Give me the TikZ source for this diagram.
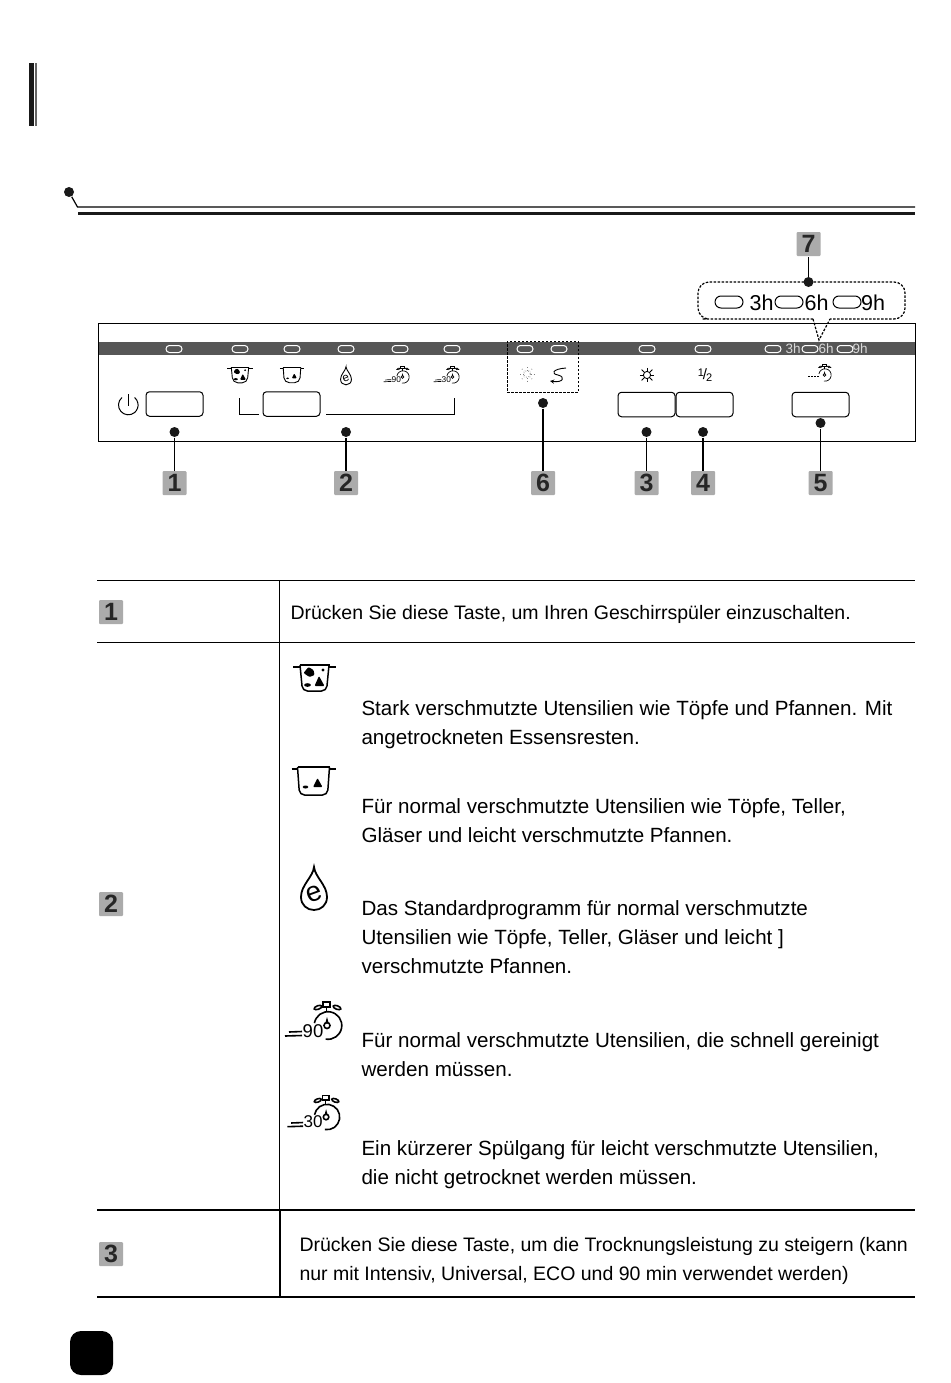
\documentclass[tikz,border=0pt]{standalone}
\usepackage{fontspec}
\setmainfont{Liberation Sans}
\usetikzlibrary{positioning}
\definecolor{bandgray}{HTML}{565656}
\definecolor{badgegray}{HTML}{ABABAB}
\newcommand{\clockdraw}{
	\draw (190:13.8) arc [start angle=190,end angle=460,radius=13.8];
	\draw (-5,-23.5) rectangle (2,-18.5);
	\draw (-1.5,-18.5) -- (-1.5,-13.8);
	\draw[rotate around={20:(-10,-18)}] (-10,-18) ellipse [x radius=4,y radius=1.8];
	\draw[rotate around={-20:(9,-18)}] (9,-18) ellipse [x radius=4,y radius=1.8];
	\draw (-1,0) circle [radius=3];
	\fill (-1,-8.5) -- (.8,-2) -- (-2.8,-2) -- cycle;
}
\tikzset{
	dot/.style={circle,fill=black!90,inner sep=0pt,minimum size=10pt},
	badge/.style={fill=badgegray,rounded corners=1pt,inner sep=0pt,minimum size=24pt,font=\fontsize{25}{25}\selectfont\bfseries,text=black!85},
	btn/.style={draw,line width=1pt,rounded corners=3.5pt,inner sep=0pt,minimum width=57pt,minimum height=24.5pt},
	led/.style={draw=white,line width=1pt,fill=bandgray,rounded corners=3.4pt,inner sep=0pt,minimum width=16pt,minimum height=7pt},
	bigled/.style={draw,line width=1pt,rounded corners=6pt,inner sep=0pt,minimum width=28pt,minimum height=12pt},
	bandtxt/.style={text=white!85!black,font=\fontsize{13.5}{14}\selectfont,inner sep=0pt},
	bigtxt/.style={font=\fontsize{21.5}{22}\selectfont,inner sep=0pt},
	txt/.style={anchor=west,align=left,inner sep=0pt,font=\fontsize{20.6}{29.3}\selectfont},
	smalltxt/.style={anchor=west,align=left,inner sep=0pt,font=\fontsize{19.5}{29.3}\selectfont},
	dashline/.style={dash pattern=on 2.5pt off 1.5pt,line width=1pt},
	potfull/.pic={
		\draw (-15,-13) -- (15,-13);
		\draw (-21.5,-11) -- (-14.5,-11) (14.5,-11) -- (21,-11);
		\draw[rounded corners=5pt] (-14.5,-13) -- (-12,13) -- (12,13) -- (14.5,-13);
		\fill[rounded corners=1pt] (-11,-5) -- (-6,-11) -- (-1,-8) -- (0,-3) -- (-5,-1) -- cycle;
		\fill[rounded corners=1pt] (0,8) -- (4.5,-2) -- (10,8) -- cycle;
		\fill (-7,7) ellipse [x radius=3.4,y radius=1.8];
		\fill (8.5,-8) circle [radius=1.7];
	},
	potnorm/.pic={
		\draw (-16,-14) -- (16,-14);
		\draw (-22,-12) -- (-15.5,-12) (15.5,-12) -- (22,-12);
		\draw[rounded corners=5pt] (-16,-14) -- (-14,14) -- (14,14) -- (16,-14);
		\fill[rounded corners=1pt] (-.5,6) -- (4,-3) -- (9,6) -- cycle;
		\fill (-8,6) ellipse [x radius=2.8,y radius=1.5];
	},
	dropicon/.pic={
		\draw (0,-22) .. controls (1,-12) and (13,-4) .. (13,8) .. controls (13,16) and (7,21) .. (0,21) .. controls (-7,21) and (-13,16) .. (-13,8) .. controls (-13,-4) and (-1,-12) .. cycle;
		\node[transform shape,rotate=20,inner sep=0pt,font=\fontsize{28}{28}\selectfont] at (0,5) {e};
	},
	clockbase/.pic={
		\clockdraw
	},
	clockicon/.pic={
		\clockdraw
		\draw (-43,10.5) -- (-26,10);
		\draw (-39,6.5) -- (-26,6);
		\node[transform shape,inner sep=0pt,font=\fontsize{18.5}{19}\selectfont] at (-15,5.5) {\tikzpictext};
	},
	sunicon/.pic={
		\draw (0,0) circle [radius=4];
		\draw (0,-8) -- (0,-4.5) (0,4.5) -- (0,8) (-8,0) -- (-4.5,0) (4.5,0) -- (8,0);
		\draw (-6,-6) -- (-3.3,-3.3) (6,-6) -- (3.3,-3.3) (-6,6) -- (-3.3,3.3) (6,6) -- (3.3,3.3);
	},
}
\begin{document}
\begin{tikzpicture}[x=1pt,y=-1pt,line width=1pt]
	\useasboundingbox (0,0) rectangle (950,1383);

	\fill[black!90] (29,63) rectangle (33.5,126);
	\fill[black!60] (35,63) rectangle (36.7,126);

	\node[dot] (hd) at (69,192) {};
	\coordinate (hb) at (77.5,207);
	\coordinate (he) at (915,207);
	\draw[line width=1.2pt] (hd) -- (hb) -- (he);
	\fill[black!90] (77.5,211.5) rectangle (915,214.5);

	\node[draw,minimum width=817pt,minimum height=118pt,inner sep=0pt] (panel) at (506.5,382) {};
	\fill[bandgray] (99,342) rectangle (914.5,355);

	\node[led] (l1) at (174,349) {};
	\node[led] (l2) at (240,349) {};
	\node[led] (l3) at (292,349) {};
	\node[led] (l4) at (346,349) {};
	\node[led] (l5) at (400,349) {};
	\node[led] (l6) at (452,349) {};
	\node[led] (l7) at (525,349) {};
	\node[led] (l8) at (559,349) {};
	\node[led] (l9) at (647,349) {};
	\node[led] (l10) at (703,349) {};
	\node[led] (l11) at (773,349) {};
	\node[bandtxt] (t3) at (793,349) {3h};
	\node[led] (l12) at (810,349) {};
	\node[bandtxt] (t6) at (826,349) {6h};
	\node[led] (l13) at (845,349) {};
	\node[bandtxt] (t9) at (860,349) {9h};

	\node[btn] (b1) at (174.5,404) {};
	\node[btn] (b2) at (291.5,404) {};
	\node[btn] (b3) at (646.5,404.5) {};
	\node[btn] (b4) [right=0pt of b3] {};
	\node[btn] (b5) at (820.5,404.5) {};

	\draw (128,394) -- (128,406);
	\draw (122,397.5) arc [start angle=230,end angle=-50,radius=9.8];

	\coordinate (k1) at (239,398);
	\coordinate (k2) at (239,414.5);
	\coordinate (k3) at (259,414.5);
	\coordinate (k4) at (326,414.5);
	\coordinate (k5) at (454,414.5);
	\coordinate (k6) at (454,398);
	\draw (k1) -- (k2) -- (k3);
	\draw (k4) -- (k5) -- (k6);

	\pic[scale=.6,line width=.9pt] at (240,375) {potfull};
	\pic[scale=.55,line width=.9pt] at (292,375) {potnorm};
	\pic[scale=.42,line width=.9pt] at (346,376) {dropicon};
	\pic[scale=.45,line width=.7pt,pic text=90] at (403,377) {clockicon};
	\pic[scale=.45,line width=.7pt,pic text=30] at (453,377) {clockicon};
	\pic[scale=.85,line width=.8pt,draw=gray,dotted] at (527,374) {sunicon};
	\draw[line width=.9pt,->,>=stealth] (566,368) .. controls (552,369) and (551,374) .. (558,375) .. controls (566,377) and (563,383) .. (550,381);
	\pic[scale=.9,line width=.9pt] at (647,375) {sunicon};
	\node[inner sep=0pt,font=\fontsize{11}{11}\selectfont] (half) at (705,375) {\raisebox{2.5pt}{1}\kern-1pt{\fontsize{15}{15}\selectfont/}\kern-1pt\raisebox{-2.5pt}{2}};
	\pic[scale=.45,line width=.7pt] at (825,375) {clockbase};
	\coordinate (w1) at (808,376);
	\coordinate (w2) at (819,376);
	\draw[line width=.8pt,dash pattern=on 2pt off 1pt] (w1) -- (w2);

	\node[draw,dashline,minimum width=71pt,minimum height=51pt,inner sep=0pt] (box) at (542.5,366.5) {};

	\coordinate (c1) at (813,319);
	\coordinate (c2) at (819,340);
	\coordinate (c3) at (830,319);
	\draw[dashline,line width=1.2pt,fill=white,rounded corners=11pt] (c1) -- (713,319) -- (698,319) -- (698,282) -- (905,282) -- (905,319) -- (c3);
	\draw[dashline,line width=1.2pt] (c1) -- (c2) -- (c3);
	\node[bigled] (bl1) at (729,302) {};
	\node[bigtxt] (bt3) at (761.5,303) {3h};
	\node[bigled] (bl2) at (789,302) {};
	\node[bigtxt] (bt6) at (816.5,303) {6h};
	\node[bigled] (bl3) at (847,302) {};
	\node[bigtxt] (bt9) at (873,303) {9h};

	\node[dot] (d1) at (174.5,432) {};
	\node[dot] (d2) at (346,432) {};
	\node[dot] (d3) at (646.5,432) {};
	\node[dot] (d4) at (703,432) {};
	\node[dot] (d5) at (820.5,423) {};
	\node[dot] (d6) at (543,403) {};
	\node[dot] (d7) at (808.5,282) {};

	\node[badge] (n1) [below=33pt of d1] {1};
	\node[badge] (n2) [below=33pt of d2] {2};
	\node[badge] (n3) [below=33pt of d3] {3};
	\node[badge] (n4) [below=33pt of d4] {4};
	\node[badge] (n5) [below=42pt of d5] {5};
	\node[badge] (n6) [below=62pt of d6] {6};
	\node[badge] (n7) [above=20pt of d7] {7};

	\draw[line width=1.2pt] (d1) -- (n1);
	\draw[line width=1.2pt] (d2) -- (n2);
	\draw[line width=1.2pt] (d3) -- (n3);
	\draw[line width=1.2pt] (d4) -- (n4);
	\draw[line width=1.2pt] (d5) -- (n5);
	\draw[line width=1.2pt] (d6) -- (n6);
	\draw[line width=1.2pt] (d7) -- (n7);

	\coordinate (r1l) at (97,580);
	\coordinate (r1r) at (915,580);
	\coordinate (r2l) at (97,642);
	\coordinate (r2r) at (915,642);
	\coordinate (r3l) at (97,1210);
	\coordinate (r3r) at (915,1210);
	\coordinate (r4l) at (97,1297);
	\coordinate (r4r) at (915,1297);
	\coordinate (v1) at (279,580);
	\coordinate (v2) at (279,1210);
	\coordinate (v3) at (280,1210);
	\coordinate (v4) at (280,1297);
	\draw[line width=.8pt] (r1l) -- (r1r);
	\draw[line width=.8pt] (r2l) -- (r2r);
	\draw[line width=.8pt] (v1) -- (v2);
	\draw[line width=2pt] (r3l) -- (r3r);
	\draw[line width=2pt] (r4l) -- (r4r);
	\draw[line width=2pt] (v3) -- (v4);

	\node[badge] (m1) at (111,612) {1};
	\node[badge] (m2) at (111,904) {2};
	\node[badge] (m3) at (111,1254) {3};

	\node[smalltxt] (x1) at (290,614.5) {Drücken Sie diese Taste, um Ihren Geschirrspüler einzuschalten.};
	\pic[line width=1.5pt] at (314.5,678) {potfull};
	\node[txt] (x2) at (361,724.8) {Stark verschmutzte Utensilien wie Töpfe und Pfannen. Mit\\angetrockneten Essensresten.};
	\pic[line width=1.5pt] at (313.5,781) {potnorm};
	\node[txt] (x3) at (361,820.3) {Für normal verschmutzte Utensilien wie Töpfe, Teller,\\Gläser und leicht verschmutzte Pfannen.};
	\pic[line width=1.8pt] at (314,889) {dropicon};
	\node[txt] (x4) at (361,937) {Das Standardprogramm für normal verschmutzte\\Utensilien wie Töpfe, Teller, Gläser und leicht ]\\verschmutzte Pfannen.};
	\pic[line width=1.6pt,pic text=90] at (328,1025.5) {clockicon};
	\node[txt] (x5) at (361,1054.5) {Für normal verschmutzte Utensilien, die schnell gereinigt\\werden müssen.};
	\pic[line width=1.6pt,scale=.92,pic text=30] at (327,1117) {clockicon};
	\node[txt] (x6) at (361,1165) {Ein kürzerer Spülgang für leicht verschmutzte Utensilien,\\die nicht getrocknet werden müssen.};
	\node[smalltxt] (x7) at (299,1261) {Drücken Sie diese Taste, um die Trocknungsleistung zu steigern (kann\\nur mit Intensiv, Universal, ECO und 90 min verwendet werden)};

	\node[fill=black,rounded corners=11pt,minimum width=43pt,minimum height=44pt,inner sep=0pt] (pg) at (91.5,1353) {};
\end{tikzpicture}
\end{document}
